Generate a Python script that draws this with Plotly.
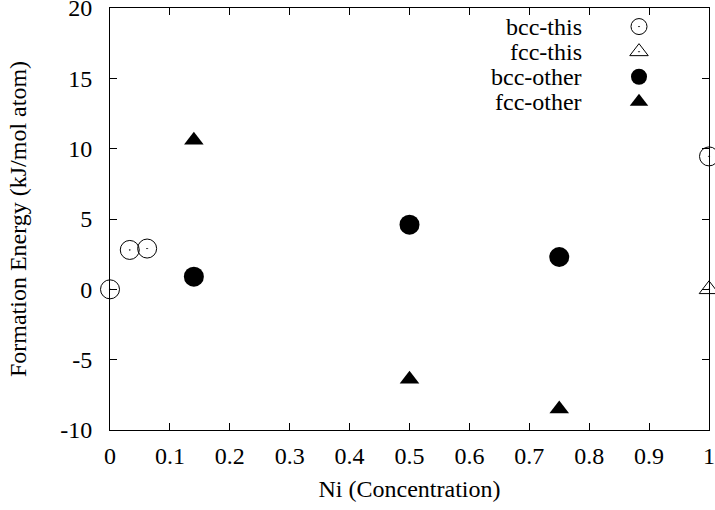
import plotly.graph_objects as go

# Data
bcc_this_x = [0.0, 0.033, 0.062, 1.0]
bcc_this_y = [0.0, 2.8, 2.9, 9.45]
fcc_this_x = [1.0]
fcc_this_y = [0.0]
bcc_other_x = [0.14, 0.5, 0.75]
bcc_other_y = [0.9, 4.6, 2.3]
fcc_other_x = [0.14, 0.5, 0.75]
fcc_other_y = [10.6, -6.4, -8.5]

series_names = ["bcc-this", "fcc-this", "bcc-other", "fcc-other"]
y_tickvals = [-10, -5, 0, 5, 10, 15, 20]
y_ticktext = ["-10", "-5", "0", "5", "10", "15", "20"]
x_tickvals = [0, 0.1, 0.2, 0.3, 0.4, 0.5, 0.6, 0.7, 0.8, 0.9, 1]
x_ticktext = ["0", "0.1", "0.2", "0.3", "0.4", "0.5", "0.6", "0.7", "0.8", "0.9", "1"]

FONT = "Liberation Serif"

fig = go.Figure()
fig.add_trace(go.Scatter(x=bcc_this_x, y=bcc_this_y, mode="markers", name=" ",
                         marker=dict(symbol="circle-open-dot", size=19, color="black",
                                     line=dict(width=1, color="black")),
                         cliponaxis=False))
fig.add_trace(go.Scatter(x=fcc_this_x, y=fcc_this_y, mode="markers", name=" ",
                         marker=dict(symbol="triangle-up-open-dot", size=17, color="black",
                                     line=dict(width=1, color="black")),
                         cliponaxis=False))
fig.add_trace(go.Scatter(x=bcc_other_x, y=bcc_other_y, mode="markers", name=" ",
                         marker=dict(symbol="circle", size=20, color="black"),
                         cliponaxis=False))
fig.add_trace(go.Scatter(x=fcc_other_x, y=fcc_other_y, mode="markers", name=" ",
                         marker=dict(symbol="triangle-up", size=17, color="black"),
                         cliponaxis=False))

# plot area in pixels
L, R, T, B = 110, 6, 8, 80
W, H = 715, 510
pw = W - L - R
ph = H - T - B

def px_to_paper_x(px):
    return (px - L) / pw

def px_to_paper_y(py):
    return (H - B - py) / ph

row_y = [27, 52, 77, 102]
for name, ry in zip(series_names, row_y):
    fig.add_annotation(text=name, xref="paper", yref="paper",
                       x=px_to_paper_x(584), y=px_to_paper_y(ry),
                       xanchor="right", yanchor="middle", showarrow=False,
                       font=dict(family=FONT, size=24, color="black"))

axis_common = dict(showline=True, linecolor="black", linewidth=1, mirror="ticks",
                   ticks="inside", ticklen=7, tickcolor="black", tickwidth=1,
                   showgrid=False, zeroline=False, ticklabeloverflow="allow",
                   automargin=False,
                   tickfont=dict(family=FONT, size=24, color="black"))

fig.update_xaxes(range=[0, 1], tickvals=x_tickvals, ticktext=x_ticktext,
                 title=dict(text="Ni (Concentration)", font=dict(family=FONT, size=24, color="black"),
                            standoff=12),
                 ticklabelstandoff=4, **axis_common)
fig.update_yaxes(range=[-10, 20], tickvals=y_tickvals, ticktext=y_ticktext,
                 title=dict(text="Formation Energy (kJ/mol atom)",
                            font=dict(family=FONT, size=24, color="black"), standoff=26),
                 ticklabelstandoff=12, **axis_common)

fig.update_layout(
    width=W, height=H,
    font=dict(family=FONT, size=24, color="black"),
    margin=dict(l=L, r=R, t=T, b=B, autoexpand=False),
    paper_bgcolor="white", plot_bgcolor="white",
    showlegend=True,
    legend=dict(x=px_to_paper_x(619), y=px_to_paper_y(9), xanchor="left", yanchor="top",
                bgcolor="rgba(0,0,0,0)", font=dict(family=FONT, size=17),
                itemsizing="trace", tracegroupgap=0),
)

fig.write_html("out.html", config={"displayModeBar": False},
               post_script="document.body.style.margin='0';document.body.style.overflow='hidden';")
